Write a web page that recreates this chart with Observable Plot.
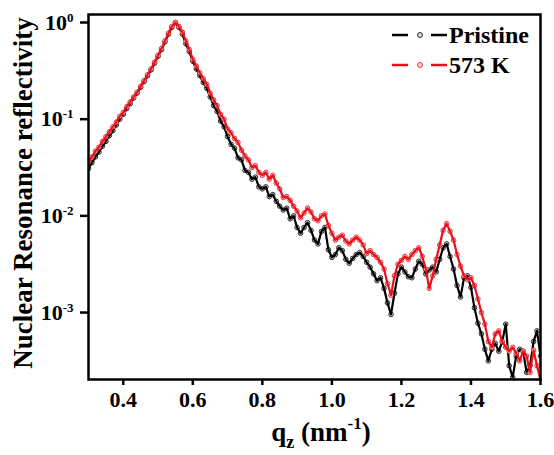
<!DOCTYPE html>
<html><head><meta charset="utf-8">
<script src="https://cdn.jsdelivr.net/npm/d3@7"></script>
<script src="https://cdn.jsdelivr.net/npm/@observablehq/plot@0.6"></script>
<style>body{margin:0;background:#fff;}</style>
</head><body><div id="chart"></div>
<script>
// q_z values (nm^-1)
const q = [0.30,0.31,0.32,0.33,0.34,0.35,0.36,0.37,0.38,0.39,0.40,0.41,0.42,0.43,0.44,0.45,0.46,0.47,0.48,0.49,
0.50,0.51,0.52,0.53,0.54,0.55,0.56,0.57,0.58,0.59,0.60,0.61,0.62,0.63,0.64,0.65,0.66,0.67,0.68,0.69,
0.70,0.71,0.72,0.73,0.74,0.75,0.76,0.77,0.78,0.79,0.80,0.81,0.82,0.83,0.84,0.85,0.86,0.87,0.88,0.89,
0.90,0.91,0.92,0.93,0.94,0.95,0.96,0.97,0.98,0.99,1.00,1.01,1.02,1.03,1.04,1.05,1.06,1.07,1.08,1.09,
1.10,1.11,1.12,1.13,1.14,1.15,1.16,1.17,1.18,1.19,1.20,1.21,1.22,1.23,1.24,1.25,1.26,1.27,1.28,1.29,
1.30,1.31,1.32,1.33,1.34,1.35,1.36,1.37,1.38,1.39,1.40,1.41,1.42,1.43,1.44,1.45,1.46,1.47,1.48,1.49,
1.50,1.51,1.52,1.53,1.54,1.55,1.56,1.57,1.58,1.59,1.60];
// log10 of reflectivity, Pristine
const log10R_pristine = [-1.51,-1.45,-1.39,-1.34,-1.28,-1.23,-1.17,-1.12,-1.06,-1.00,-0.95,-0.89,-0.84,-0.78,-0.73,-0.67,-0.61,-0.55,-0.49,-0.42,
-0.35,-0.28,-0.20,-0.12,-0.05,0.00,-0.05,-0.12,-0.22,-0.30,-0.40,-0.48,-0.55,-0.62,-0.68,-0.77,-0.86,-0.92,-1.02,-1.08,
-1.18,-1.26,-1.30,-1.40,-1.42,-1.53,-1.55,-1.62,-1.60,-1.70,-1.72,-1.70,-1.80,-1.78,-1.85,
-1.90,-1.94,-1.92,-2.03,-2.00,-2.12,-2.18,-2.12,-2.07,-2.15,
-2.25,-2.29,-2.16,-2.12,-2.35,-2.43,-2.40,-2.33,-2.36,-2.45,
-2.49,-2.44,-2.40,-2.38,-2.42,-2.48,-2.53,-2.60,-2.67,-2.64,
-2.75,-2.90,-3.02,-2.80,-2.60,-2.53,-2.58,-2.63,-2.64,-2.55,
-2.47,-2.50,-2.60,-2.56,-2.53,-2.58,-2.45,-2.33,-2.29,-2.42,
-2.55,-2.72,-2.84,-2.64,-2.62,-2.74,-2.95,-3.11,-3.22,-3.38,
-3.50,-3.38,-3.32,-3.40,-3.30,-3.12,-3.55,-3.67,-3.45,-3.38,
-3.40,-3.62,-3.55,-3.30,-3.19,-3.45];
// log10 of reflectivity, 573 K
const log10R_573K = [-1.44,-1.39,-1.33,-1.29,-1.23,-1.18,-1.13,-1.08,-1.03,-0.97,-0.93,-0.87,-0.82,-0.77,-0.72,-0.66,-0.60,-0.54,-0.48,-0.41,
-0.34,-0.27,-0.19,-0.11,-0.04,0.00,-0.04,-0.10,-0.19,-0.28,-0.38,-0.45,-0.52,-0.58,-0.64,-0.73,-0.80,-0.86,-0.95,-1.00,
-1.10,-1.14,-1.20,-1.24,-1.32,-1.38,-1.42,-1.50,-1.48,-1.55,-1.58,-1.55,-1.62,-1.58,-1.66,
-1.72,-1.81,-1.80,-1.84,-1.90,-1.95,-2.02,-1.97,-1.92,-1.96,
-2.03,-2.05,-2.00,-1.98,-2.10,-2.18,-2.25,-2.22,-2.20,-2.26,
-2.29,-2.25,-2.22,-2.25,-2.30,-2.39,-2.36,-2.40,-2.43,-2.48,
-2.55,-2.70,-2.82,-2.62,-2.50,-2.46,-2.42,-2.45,-2.40,-2.36,
-2.33,-2.42,-2.55,-2.75,-2.62,-2.45,-2.30,-2.15,-2.08,-2.16,
-2.25,-2.40,-2.52,-2.62,-2.66,-2.64,-2.72,-2.86,-3.00,-3.12,
-3.30,-3.36,-3.22,-3.19,-3.30,-3.36,-3.40,-3.36,-3.42,-3.50,
-3.40,-3.45,-3.62,-3.39,-3.55,-3.70];
const seriesNames = ["Pristine", "573 K"];
const xTicks = [0.4, 0.6, 0.8, 1.0, 1.2, 1.4, 1.6];
const yTicks = [1, 0.1, 0.01, 0.001];

const colors = {"Pristine": "#000000", "573 K": "#e8101a"};
const markerFill = {"Pristine": "#d8d8d8", "573 K": "#f4d0d0"};
const toRows = (arr, name) => q.map((v, i) => ({q: v, R: Math.pow(10, arr[i]), series: name}));
const pristine = toRows(log10R_pristine, seriesNames[0]);
const hot = toRows(log10R_573K, seriesNames[1]);

const font = "Liberation Serif";
const plot = Plot.plot({
  width: 554, height: 455,
  marginLeft: 88, marginRight: 14, marginTop: 14, marginBottom: 76,
  style: {fontFamily: "'Liberation Serif'", background: "white"},
  x: {domain: [0.3, 1.6]},
  y: {type: "log", domain: [2.03e-4, 1.21]},
  marks: [
    Plot.dot(pristine, {x: "q", y: "R", r: 2.3, fill: markerFill["Pristine"], stroke: colors["Pristine"], strokeWidth: 0.8, clip: true}),
    Plot.line(pristine, {x: "q", y: "R", stroke: colors["Pristine"], strokeWidth: 2.2, clip: true}),
    Plot.dot(hot, {x: "q", y: "R", r: 2.3, fill: markerFill["573 K"], stroke: colors["573 K"], strokeWidth: 0.8, clip: true}),
    Plot.line(hot, {x: "q", y: "R", stroke: colors["573 K"], strokeWidth: 2.2, clip: true}),
    Plot.frame({stroke: "black", strokeWidth: 2.5}),
    Plot.axisX({ticks: xTicks, tickSize: 6, tickPadding: 6, tickFormat: d3.format(".1f"), fontSize: 22, fontWeight: "bold", label: null}),
    Plot.axisY({ticks: yTicks, tickSize: 8, tickPadding: 7, tickFormat: d => String(Math.round(Math.log10(d))), fontSize: 22, fontWeight: "bold", label: null})
  ]
});
document.getElementById("chart").appendChild(plot);

const svg = d3.select(plot);
svg.selectAll('g[aria-label="x-axis tick"], g[aria-label="y-axis tick"]').attr("stroke-width", 2.5).attr("stroke", "black");
// tick labels: explicit bold serif on every text element
svg.selectAll('g[aria-label="x-axis tick label"], g[aria-label="y-axis tick label"]')
  .attr("font-variant", null)
  .attr("font-family", font)
  .attr("font-weight", "bold");
svg.selectAll('g[aria-label="x-axis tick label"] text, g[aria-label="y-axis tick label"] text')
  .attr("font-family", font)
  .attr("font-weight", "bold")
  .attr("font-size", 22)
  .attr("fill", "black");
// superscript exponents on y tick labels
svg.selectAll('g[aria-label="y-axis tick label"] text').each(function() {
  const t = d3.select(this);
  const e = t.text().replace("\u2212", "-");
  t.text("10");
  t.append("tspan").attr("dy", "-0.6em").attr("font-size", 13).text(e);
});

// axis titles
svg.append("text")
  .attr("transform", "translate(32,193) rotate(-90)")
  .attr("text-anchor", "middle")
  .attr("font-family", font).attr("font-weight", "bold").attr("font-size", 27)
  .attr("fill", "black")
  .text("Nuclear Resonance reflectivity");

const xt = svg.append("text")
  .attr("x", 321).attr("y", 441)
  .attr("text-anchor", "middle")
  .attr("font-family", font).attr("font-weight", "bold").attr("font-size", 27)
  .attr("fill", "black");
xt.append("tspan").text("q");
xt.append("tspan").attr("font-size", 18).attr("dy", 7).text("z");
xt.append("tspan").attr("dy", -7).text(" (nm");
xt.append("tspan").attr("font-size", 17).attr("dy", -12).text("-1");
xt.append("tspan").attr("dy", 12).text(")");

// legend
const legend = svg.append("g");
seriesNames.forEach((name, i) => {
  const y = 35 + i * 30;
  const c = colors[name];
  legend.append("line").attr("x1", 392).attr("x2", 408).attr("y1", y).attr("y2", y).attr("stroke", c).attr("stroke-width", 2.5);
  legend.append("circle").attr("cx", 420).attr("cy", y).attr("r", 2.5).attr("fill", markerFill[name]).attr("stroke", c).attr("stroke-width", 0.8);
  legend.append("line").attr("x1", 431).attr("x2", 447).attr("y1", y).attr("y2", y).attr("stroke", c).attr("stroke-width", 2.5);
  legend.append("text").attr("x", 449).attr("y", y + 8)
    .attr("text-anchor", "start")
    .attr("font-family", font).attr("font-weight", "bold").attr("font-size", 24).attr("fill", "black")
    .text(name);
});
</script>
</body></html>
